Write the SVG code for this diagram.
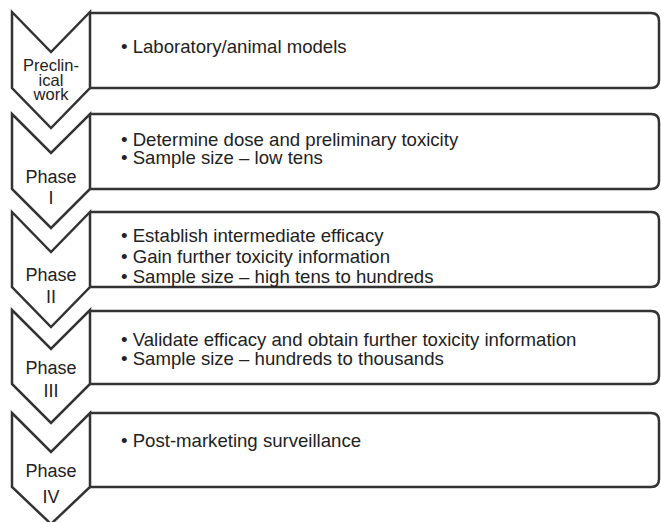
<svg xmlns="http://www.w3.org/2000/svg" width="661" height="522" viewBox="0 0 661 522">
<style>
.shape{fill:#fff;stroke:#333;stroke-width:2.5;stroke-linejoin:miter}
.box{fill:#fff;stroke:#333;stroke-width:2.5}
.lbl{font-family:"Liberation Sans",Arial,sans-serif;font-size:18px;fill:#222;text-anchor:middle}
.lbs{font-family:"Liberation Sans",Arial,sans-serif;font-size:16.5px;fill:#222;text-anchor:middle}
.txt{font-family:"Liberation Sans",Arial,sans-serif;font-size:18.6px;fill:#222}
</style>
<rect width="661" height="522" fill="#fff"/>
<g id="preclinical">
<path class="box" d="M90,13 H651 Q659,13 659,21 V80 Q659,88 651,88 H90"/>
<path class="shape" d="M12,12 L51,52 L90,12 L90,88 L51,128 L12,88 Z"/>
<text class="lbs" x="51" y="71">Preclin-</text>
<text class="lbs" x="51" y="85.5">ical</text>
<text class="lbs" x="51" y="100">work</text>
<text class="txt" x="121" y="53">• Laboratory/animal models</text>
</g>
<g id="phase1">
<path class="box" d="M90,114 H651 Q659,114 659,122 V181 Q659,189 651,189 H90"/>
<path class="shape" d="M12,114 L51,153 L90,114 L90,189 L51,228 L12,189 Z"/>
<text class="lbl" x="51" y="183">Phase</text>
<text class="lbl" x="51" y="204">I</text>
<text class="txt" x="121" y="146">• Determine dose and preliminary toxicity</text>
<text class="txt" x="121" y="164">• Sample size – low tens</text>
</g>
<g id="phase2">
<path class="box" d="M90,212 H651 Q659,212 659,220 V279 Q659,287 651,287 H90"/>
<path class="shape" d="M12,212 L51,252 L90,212 L90,287 L51,327 L12,287 Z"/>
<text class="lbl" x="51" y="281">Phase</text>
<text class="lbl" x="51" y="303">II</text>
<text class="txt" x="121" y="242">• Establish intermediate efficacy</text>
<text class="txt" x="121" y="263">• Gain further toxicity information</text>
<text class="txt" x="121" y="283">• Sample size – high tens to hundreds</text>
</g>
<g id="phase3">
<path class="box" d="M90,311 H651 Q659,311 659,319 V376 Q659,384 651,384 H90"/>
<path class="shape" d="M12,310 L51,349 L90,310 L90,384 L51,423 L12,384 Z"/>
<text class="lbl" x="51" y="374">Phase</text>
<text class="lbl" x="51" y="397">III</text>
<text class="txt" x="121" y="346">• Validate efficacy and obtain further toxicity information</text>
<text class="txt" x="121" y="365">• Sample size – hundreds to thousands</text>
</g>
<g id="phase4">
<path class="box" d="M90,413 H651 Q659,413 659,421 V479 Q659,487 651,487 H90"/>
<path class="shape" d="M12,413 L51,452 L90,413 L90,487 L51,524 L12,487 Z"/>
<text class="lbl" x="51" y="477">Phase</text>
<text class="lbl" x="51" y="503">IV</text>
<text class="txt" x="121" y="447">• Post-marketing surveillance</text>
</g>
<g id="connectors"></g>
</svg>
